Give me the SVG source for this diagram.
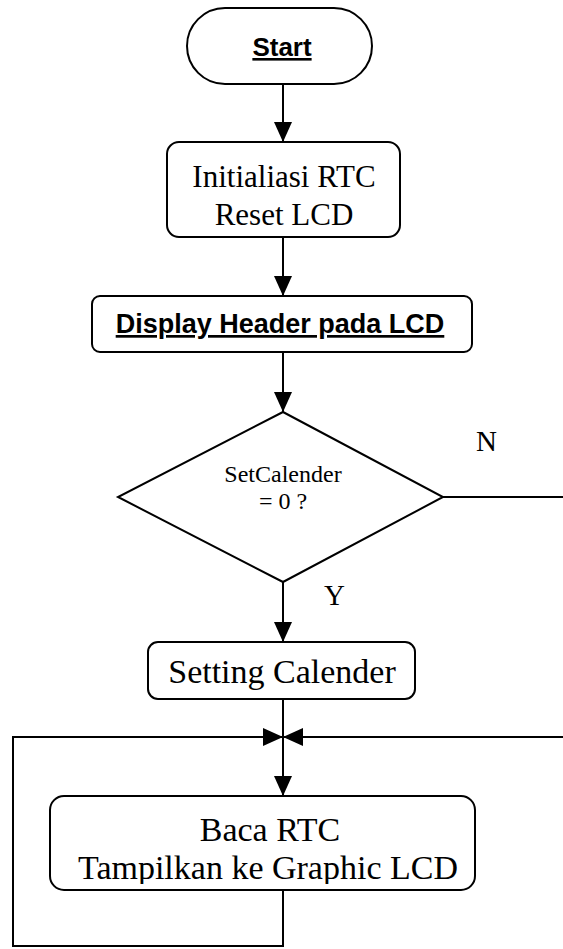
<svg xmlns="http://www.w3.org/2000/svg" width="563" height="949" viewBox="0 0 563 949">
<defs>
<marker id="ah" markerWidth="20" markerHeight="20" refX="20" refY="10" orient="auto" markerUnits="userSpaceOnUse">
<path d="M0,1 L20,10 L0,19 Z" fill="#000"/>
</marker>
<clipPath id="bacaclip"><rect x="50" y="796" width="425" height="88"/></clipPath>
<style>
.box{fill:#fff;stroke:#000;stroke-width:2}
.ln{fill:none;stroke:#000;stroke-width:2}
.ser{font-family:"Liberation Serif","Times New Roman",serif;fill:#000}
.sans{font-family:"Liberation Sans",Arial,sans-serif;font-weight:bold;fill:#000;text-decoration:underline}
</style>
</defs>
<rect width="563" height="949" fill="#fff"/>
<g id="connectors">
<line class="ln" x1="283" y1="84" x2="283" y2="142" marker-end="url(#ah)"/>
<line class="ln" x1="283" y1="237" x2="283" y2="296" marker-end="url(#ah)"/>
<line class="ln" x1="283" y1="352" x2="283" y2="412" marker-end="url(#ah)"/>
<line class="ln" x1="283" y1="582" x2="283" y2="642" marker-end="url(#ah)"/>
<line class="ln" x1="443" y1="497" x2="563" y2="497"/>
<line class="ln" x1="283" y1="699" x2="283" y2="796" marker-end="url(#ah)"/>
<line class="ln" x1="563" y1="737" x2="283" y2="737" marker-end="url(#ah)"/>
<polyline class="ln" points="283,890 283,946 13,946 13,737 283,737" marker-end="url(#ah)"/>
<text class="ser" x="476" y="451" font-size="29">N</text>
<text class="ser" x="324" y="605" font-size="29">Y</text>
</g>
<g id="start">
<rect class="box" x="187" y="8" width="185" height="76" rx="38" ry="38"/>
<text class="sans" x="282" y="56" font-size="26" text-anchor="middle">Start</text>
</g>
<g id="init">
<rect class="box" x="167" y="142" width="233" height="95" rx="12" ry="12"/>
<text class="ser" x="284" y="187" font-size="31" text-anchor="middle">Initialiasi RTC</text>
<text class="ser" x="284" y="225" font-size="31" text-anchor="middle">Reset LCD</text>
</g>
<g id="header">
<rect class="box" x="92" y="296" width="380" height="56" rx="8" ry="8"/>
<text class="sans" x="280" y="333" font-size="27" text-anchor="middle">Display Header pada LCD</text>
</g>
<g id="decision">
<polygon class="box" points="283,412 443,497 283,582 118,497"/>
<text class="ser" x="283" y="482" font-size="24" text-anchor="middle">SetCalender</text>
<text class="ser" x="283" y="509" font-size="24" text-anchor="middle">= 0 ?</text>
</g>
<g id="setting">
<rect class="box" x="148" y="642" width="267" height="57" rx="10" ry="10"/>
<text class="ser" x="282" y="683" font-size="34" text-anchor="middle">Setting Calender</text>
</g>
<g id="baca">
<rect class="box" x="50" y="796" width="425" height="94" rx="14" ry="14"/>
<g clip-path="url(#bacaclip)">
<text class="ser" x="270" y="841" font-size="34" text-anchor="middle">Baca RTC</text>
<text class="ser" x="268" y="879" font-size="34" text-anchor="middle">Tampilkan ke Graphic LCD</text>
</g>
</g>
</svg>
